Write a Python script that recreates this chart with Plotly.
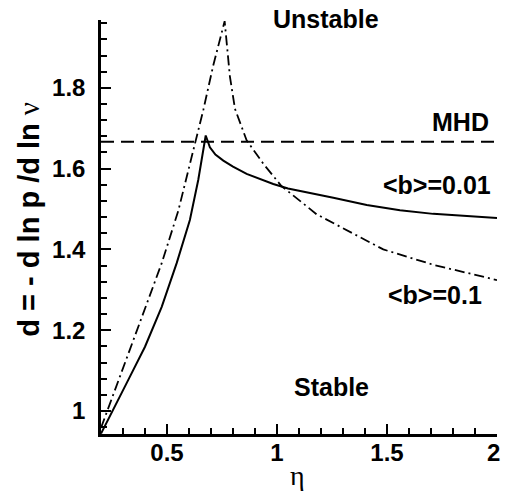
import plotly.graph_objects as go

# <b>=0.01 curve (solid)
eta_b001 = [0.2, 0.263, 0.324, 0.40, 0.476, 0.544, 0.604, 0.642, 0.67, 0.676,
            0.695, 0.72, 0.756, 0.80, 0.862, 0.923, 0.983, 1.05, 1.105, 1.256,
            1.408, 1.559, 1.71, 1.862, 2.0]
d_b001 = [0.944, 1.010, 1.077, 1.159, 1.258, 1.366, 1.473, 1.572, 1.672, 1.682,
          1.653, 1.635, 1.62, 1.605, 1.587, 1.574, 1.562, 1.551, 1.545, 1.528,
          1.51, 1.497, 1.488, 1.482, 1.478]

# <b>=0.1 curve (dash-dot)
eta_b01 = [0.2, 0.324, 0.40, 0.476, 0.551, 0.612, 0.665, 0.71, 0.762,
           0.786, 0.801, 0.809, 0.862, 0.938, 1.02, 1.18, 1.483, 1.71, 2.0]
d_b01 = [0.958, 1.142, 1.25, 1.366, 1.495, 1.625, 1.745, 1.855, 1.965,
         1.828, 1.778, 1.748, 1.67, 1.612, 1.557, 1.487, 1.40, 1.362, 1.324]

# MHD limit
eta_mhd = [0.2, 2.0]
d_mhd = [5/3, 5/3]

x_tickvals = [0.5, 1.0, 1.5, 2.0]
x_ticktext = ["0.5", "1", "1.5", "2&nbsp;"]

fig = go.Figure()
fig.add_trace(go.Scatter(x=eta_mhd, y=d_mhd, mode="lines",
                         line=dict(color="black", width=2, dash="13px,7px")))
fig.add_trace(go.Scatter(x=eta_b01, y=d_b01, mode="lines",
                         line=dict(color="black", width=1.8, dash="10px,4px,2px,4px")))
fig.add_trace(go.Scatter(x=eta_b001, y=d_b001, mode="lines",
                         line=dict(color="black", width=2)))

lab_font = dict(family="Liberation Sans, Arial", size=25, color="black", weight="bold")
labels = [("MHD", 1.833, 1.7146),
          ("&lt;b&gt;=0.01", 1.727, 1.56), ("&lt;b&gt;=0.1", 1.719, 1.2873),
          ("Stable", 1.249, 1.0595)]
for t, x, y in labels:
    fig.add_annotation(x=x, y=y, text=t, showarrow=False, font=lab_font,
                       xanchor="center", yanchor="middle")
fig.add_annotation(x=1.222, yref="paper", y=1.002, text="Unstable", showarrow=False,
                   font=lab_font, xanchor="center", yanchor="middle")

fig.add_annotation(xref="paper", yref="paper", x=-0.182, y=0.52,
                   text="<b>d = - d ln p /d ln </b><span style='font-family:Liberation Serif'>ν</span>",
                   textangle=-90, showarrow=False,
                   font=dict(family="Liberation Sans, Arial", size=29, color="black"),
                   xanchor="center", yanchor="middle")
fig.add_annotation(xref="paper", yref="paper", x=0.497, y=-0.101, text="η",
                   showarrow=False,
                   font=dict(family="Liberation Serif", size=28, color="black"),
                   xanchor="center", yanchor="middle")

tick_font = dict(family="Liberation Sans, Arial", size=24, color="black", weight="bold")
fig.update_xaxes(range=[0.2, 2.0], tickvals=x_tickvals, ticktext=x_ticktext,
                 showgrid=False, zeroline=False, automargin=False,
                 showline=True, linecolor="black", linewidth=2.5,
                 ticks="inside", ticklen=10, tickwidth=2, tickcolor="black",
                 tickfont=tick_font, ticklabelstandoff=-5, ticklabeloverflow="allow",
                 minor=dict(dtick=0.1, tick0=0, ticks="inside", ticklen=6, tickwidth=1.5, tickcolor="black"))
fig.update_yaxes(range=[0.943, 1.968], dtick=0.2, tick0=0, showgrid=False, zeroline=False,
                 automargin=False,
                 showline=True, linecolor="black", linewidth=2.5,
                 ticks="inside", ticklen=10, tickwidth=2, tickcolor="black",
                 tickfont=tick_font, ticklabelstandoff=8,
                 minor=dict(dtick=0.04, tick0=0, ticks="inside", ticklen=6, tickwidth=1.5, tickcolor="black"))

fig.update_layout(width=507, height=492, margin=dict(l=101, r=10, t=20, b=58),
                  paper_bgcolor="white", plot_bgcolor="white", showlegend=False)

fig.write_html("out.html", config={"displayModeBar": False},
               post_script="document.body.style.margin='0';")
